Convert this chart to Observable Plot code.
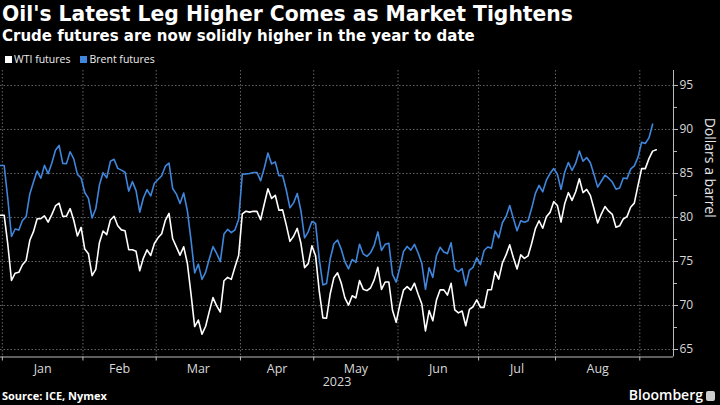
<!DOCTYPE html>
<html>
<head>
<meta charset="utf-8">
<script src="https://cdn.jsdelivr.net/npm/d3@7"></script>
<script src="https://cdn.jsdelivr.net/npm/@observablehq/plot@0.6"></script>
<style>
  html, body { margin: 0; padding: 0; background: #000; }
  #root { position: relative; width: 720px; height: 405px; overflow: hidden; background: #000; font-family: "Open Sans", sans-serif; color: #fff; }
  .title { position: absolute; left: 2px; top: 2px; font-family: "DejaVu Sans", sans-serif; font-size: 20px; font-weight: 700; line-height: 24px; white-space: nowrap; }
  .subtitle { position: absolute; left: 2px; top: 26px; font-family: "DejaVu Sans", sans-serif; font-size: 15.5px; font-weight: 700; line-height: 20px; white-space: nowrap; }
  .legend { position: absolute; left: 5px; top: 52px; font-size: 10.5px; line-height: 14px; color: #eee; white-space: nowrap; }
  .legend span.sw { display: inline-block; width: 7px; height: 7px; margin-right: 2px; vertical-align: 0px; }
  .legend span.item { margin-right: 10px; }
  #chart { position: absolute; left: 0; top: 64px; }
  .source { position: absolute; left: 2px; top: 389px; font-size: 11px; font-weight: 700; line-height: 14px; color: #fff; }
  .brand { position: absolute; right: 5px; top: 386px; font-size: 14px; font-weight: 600; line-height: 18px; color: #fff; }
  .brand .icon { display: inline-block; width: 9px; height: 10px; background: #ccc; border-radius: 2px; margin-left: 3px; vertical-align: -1px; }
</style>
</head>
<body>
<div id="root">
  <div class="title" id="title">Oil's Latest Leg Higher Comes as Market Tightens</div>
  <div class="subtitle" id="subtitle">Crude futures are now solidly higher in the year to date</div>
  <div class="legend"><span class="item"><span class="sw" style="background:#ffffff"></span>WTI futures</span><span class="item"><span class="sw" style="background:#3f86dc"></span>Brent futures</span></div>
  <div id="chart"></div>
  <div class="source">Source: ICE, Nymex</div>
  <div class="brand">Bloomberg<span class="icon"></span></div>
</div>
<script>
// Weekday series starting 2022-12-30 (daily closes, $/bbl)
const startDate = "2022-12-30";
const seriesNames = ["WTI futures", "Brent futures"];
const wti = [
  80.26, 80.26, 76.93, 72.84, 73.67, 73.77, 74.63, 75.12, 77.41, 78.39, 79.86, 79.86, 80.18, 79.48, 80.33, 81.31, 81.62, 80.13, 80.15, 81.01, 79.68, 77.90, 78.87,
  76.41, 75.88, 73.39, 74.11, 77.14, 78.47, 78.06, 79.72, 80.14, 79.06, 78.59, 78.49, 76.34, 76.34, 76.16, 73.95, 75.39, 76.32, 75.68, 77.05,
  77.69, 78.16, 79.68, 80.46, 77.58, 76.66, 75.72, 76.68, 74.80, 71.33, 67.61, 68.35, 66.74, 67.64, 69.33, 70.90, 69.96, 69.26, 72.81, 73.20, 72.97, 74.37, 75.67,
  80.42, 80.71, 80.61, 80.70, 80.70, 79.74, 81.53, 83.26, 82.16, 82.52, 80.83, 80.86, 79.16, 77.29, 77.87, 78.76, 77.07, 74.30, 74.76, 76.78,
  75.66, 71.66, 68.60, 68.56, 71.34, 73.16, 73.71, 72.56, 70.87, 70.04, 71.11, 70.86, 72.83, 71.86, 71.69, 71.99, 72.91, 74.34, 71.83, 72.67, 72.67, 69.46, 68.09,
  70.10, 71.74, 72.15, 71.74, 72.53, 71.29, 70.17, 67.12, 69.42, 68.27, 70.62, 71.78, 71.78, 71.19, 72.53, 69.51, 69.16, 69.37, 67.70, 69.56, 69.86, 70.64,
  69.79, 69.79, 71.79, 71.80, 73.86, 72.99, 74.83, 75.75, 76.89, 75.42, 74.15, 75.75, 75.35, 75.63, 77.07, 78.74, 79.63, 78.78, 80.09, 80.58, 81.80,
  81.37, 79.49, 81.55, 82.82, 81.94, 82.92, 84.40, 82.82, 83.19, 82.51, 80.99, 79.38, 80.39, 81.25, 80.72, 80.35, 78.89, 79.05, 79.83, 80.10, 81.16, 81.63, 83.63,
  85.55, 85.55, 86.69, 87.54, 87.70
];
const brent = [
  85.91, 85.91, 82.10, 77.84, 78.69, 78.57, 79.65, 80.10, 82.67, 84.03, 85.28, 84.46, 85.92, 84.98, 86.16, 87.63, 88.19, 86.13, 86.12, 87.47, 86.66, 84.90, 84.49,
  82.84, 82.17, 79.94, 80.99, 83.69, 85.09, 84.50, 86.39, 86.61, 85.58, 85.38, 85.14, 83.00, 84.07, 83.05, 80.60, 82.21, 83.16, 82.45, 83.89,
  84.31, 84.75, 85.83, 86.18, 83.29, 82.66, 81.59, 82.78, 80.77, 77.45, 73.69, 74.70, 72.97, 73.79, 75.32, 76.69, 75.91, 74.99, 78.12, 78.65, 78.28, 78.60, 79.77,
  84.93, 84.94, 84.99, 85.12, 85.12, 84.18, 85.61, 87.33, 86.09, 86.31, 84.76, 84.77, 83.12, 81.10, 81.66, 82.73, 80.77, 77.69, 78.37, 79.54,
  79.31, 75.32, 72.33, 72.50, 75.30, 77.01, 77.44, 76.41, 74.98, 74.17, 75.23, 74.91, 76.96, 75.86, 75.58, 75.99, 76.84, 78.36, 76.26, 76.95, 77.07, 73.54, 72.66,
  74.28, 76.13, 76.71, 76.29, 76.95, 75.96, 74.79, 71.84, 74.29, 73.20, 75.67, 76.61, 76.09, 75.90, 77.12, 74.14, 73.85, 74.18, 72.26, 74.03, 74.34, 75.41,
  74.65, 76.25, 76.65, 76.52, 78.47, 77.69, 79.40, 80.11, 81.36, 79.87, 78.50, 79.63, 79.46, 79.64, 81.07, 82.74, 83.64, 82.92, 84.24, 84.99, 85.56,
  84.91, 83.20, 85.14, 86.24, 85.34, 86.17, 87.55, 86.40, 86.81, 86.21, 84.89, 83.45, 84.12, 84.80, 84.46, 84.03, 83.21, 83.36, 84.48, 84.42, 85.49, 85.86, 86.83,
  88.55, 88.40, 89.04, 90.60
];
const monthLabels = ["Jan", "Feb", "Mar", "Apr", "May", "Jun", "Jul", "Aug"];
const yearLabel = "2023";
const yTicks = [65, 70, 75, 80, 85, 90, 95];
const yTitle = "Dollars a barrel";

const colors = { wti: "#ffffff", brent: "#3f86dc" };

// fit title and subtitle to the reference widths
function fitWidth(id, target) {
  const el = document.getElementById(id);
  const w = el.getBoundingClientRect().width;
  const fs = parseFloat(getComputedStyle(el).fontSize);
  if (w > 0) el.style.fontSize = (fs * target / w).toFixed(2) + "px";
}
fitWidth("title", 571);
fitWidth("subtitle", 473);

// weekday calendar for the x axis (one slot per weekday)
const dates = [];
{
  const d = new Date(startDate + "T00:00:00Z");
  while (dates.length < wti.length) {
    const wd = d.getUTCDay();
    if (wd !== 0 && wd !== 6) dates.push(new Date(d));
    d.setUTCDate(d.getUTCDate() + 1);
  }
}
// month boundaries (between last weekday of a month and first of the next)
const boundaries = [];
for (let i = 1; i < dates.length; i++) {
  if (dates[i].getUTCMonth() !== dates[i - 1].getUTCMonth()) boundaries.push(i - 0.5);
}
const mids = monthLabels.map((m, k) => (boundaries[k] + boundaries[k + 1]) / 2);
const midLabel = new Map(mids.map((v, k) => [v, monthLabels[k]]));
const minorTicks = yTicks.slice(1).map(v => v - 2.5);

const xDomain = [0, 183.7];
const yDomain = [64.15, 96.7];

const wtiData = wti.map((v, i) => ({ i, v }));
const brentData = brent.map((v, i) => ({ i, v }));

const chart = Plot.plot({
  width: 720,
  height: 324,
  marginLeft: 0,
  marginRight: 47,
  marginTop: 6,
  marginBottom: 31.5,
  style: { background: "transparent", color: "#d8d8d8", fontFamily: "Open Sans, sans-serif", overflow: "visible" },
  x: { type: "linear", domain: xDomain },
  y: { domain: yDomain },
  marks: [
    Plot.gridY(yTicks, { stroke: "#ffffff", strokeOpacity: 0.4, strokeDasharray: "1.5,2" }),
    Plot.gridX(boundaries, { stroke: "#ffffff", strokeOpacity: 0.4, strokeDasharray: "1.5,2" }),
    Plot.axisX(boundaries, { tickSize: 4, tickFormat: () => "", stroke: "#bbbbbb", label: null }),
    Plot.axisX(mids, { tickSize: 0, tickPadding: 7, tickFormat: v => midLabel.get(v), fontSize: 12.5, label: null }),
    Plot.text([yearLabel], { frameAnchor: "bottom", dy: 29, fontSize: 12.5, fill: "#d8d8d8" }),
    Plot.axisY(yTicks, { anchor: "right", tickSize: 4, tickPadding: 2, fontSize: 12, stroke: "#bbbbbb", label: null }),
    Plot.axisY(minorTicks, { anchor: "right", tickSize: 3, tickFormat: () => "", stroke: "#bbbbbb", label: null }),
    Plot.text([yTitle], { frameAnchor: "right", rotate: 90, dx: 36, dy: 4, fontSize: 14, fill: "#e6e6e6" }),
    Plot.ruleX([xDomain[1]], { stroke: "#bbbbbb", strokeWidth: 1 }),
    Plot.ruleY([yDomain[0]], { stroke: "#bbbbbb", strokeWidth: 1 }),
    Plot.line(brentData, { x: "i", y: "v", stroke: colors.brent, strokeWidth: 1.6 }),
    Plot.line(wtiData, { x: "i", y: "v", stroke: colors.wti, strokeWidth: 1.6 })
  ]
});
document.getElementById("chart").appendChild(chart);
</script>
</body>
</html>
